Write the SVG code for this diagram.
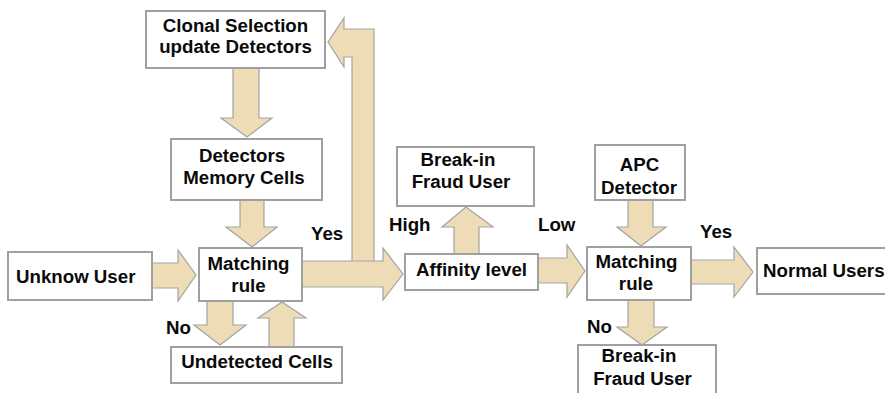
<svg xmlns="http://www.w3.org/2000/svg" width="885" height="393" viewBox="0 0 885 393">
<style>
.box{fill:#fff;stroke:#a0a0a0;stroke-width:2}
.arr{fill:#eedcb6;stroke:#a3a3a3;stroke-width:1.2;stroke-linejoin:miter}
text{font-family:"Liberation Sans",Arial,sans-serif;font-weight:bold;font-size:18.7px;fill:#0a0a0a}
.c{text-anchor:middle}
</style>
<rect width="885" height="393" fill="#fff"/>
<g id="connectors">
<path class="arr" d="M233,68 L259,68 L259,118 L272,118 L247,137 L221,118 L233,118 Z"/>
<path class="arr" d="M240,200 L264,200 L264,227 L277,227 L252,247 L226,227 L240,227 Z"/>
<path class="arr" d="M152,263 L178,263 L178,250 L196,275 L178,301 L178,288 L152,288 Z"/>
<path class="arr" d="M207,301 L233,301 L233,325 L246,325 L220,345 L194,325 L207,325 Z"/>
<path class="arr" d="M269,347 L269,318 L258,318 L282,302 L306,318 L294,318 L294,347 Z"/>
<path class="arr" d="M352,262 L352,57 L344,57 L344,67 L328,42 L344,18 L344,29 L374,29 L374,262 Z"/>
<path class="arr" d="M302,261 L383,261 L383,248 L403,274 L383,300 L383,287 L302,287 Z"/>
<path class="arr" d="M454,254 L454,227 L442,227 L466,207 L493,227 L479,227 L479,254 Z"/>
<path class="arr" d="M538,258 L567,258 L567,245 L585,271 L567,297 L567,283 L538,283 Z"/>
<path class="arr" d="M628,200 L653,200 L653,227 L666,227 L641,246 L617,227 L628,227 Z"/>
<path class="arr" d="M691,260 L734,260 L734,247 L753,272 L734,297 L734,284 L691,284 Z"/>
<path class="arr" d="M628,300 L654,300 L654,327 L667,327 L642,345 L617,327 L628,327 Z"/>
<text x="311" y="240">Yes</text>
<text x="166" y="334">No</text>
<text x="389" y="231">High</text>
<text x="538" y="231">Low</text>
<text x="700" y="238">Yes</text>
<text x="587" y="333">No</text>
</g>
<g id="clonal"><rect class="box" x="146" y="11" width="179" height="57"/>
<text class="c" x="235.5" y="32">Clonal Selection</text><text class="c" x="235.5" y="53">update Detectors</text></g>
<g id="memory"><rect class="box" x="171" y="139" width="151" height="61"/>
<text class="c" x="242" y="162">Detectors</text><text class="c" x="244" y="184">Memory Cells</text></g>
<g id="unknow"><rect class="box" x="8" y="252" width="144" height="48"/>
<text x="16" y="283">Unknow User</text></g>
<g id="match1"><rect class="box" x="199" y="248" width="103" height="53"/>
<text class="c" x="248.5" y="270">Matching</text><text class="c" x="248.5" y="292">rule</text></g>
<g id="undetected"><rect class="box" x="171" y="347" width="171" height="36"/>
<text class="c" x="257" y="368">Undetected Cells</text></g>
<g id="affinity"><rect class="box" x="405" y="254" width="133" height="36"/>
<text class="c" x="471.5" y="276">Affinity level</text></g>
<g id="fraud1"><rect class="box" x="397" y="147" width="137" height="59"/>
<text class="c" x="458" y="166">Break-in</text><text class="c" x="461" y="188">Fraud User</text></g>
<g id="apc"><rect class="box" x="595" y="145" width="90" height="55"/>
<text class="c" x="639.5" y="171">APC</text><text class="c" x="639" y="194">Detector</text></g>
<g id="match2"><rect class="box" x="587" y="247" width="104" height="53"/>
<text class="c" x="636.5" y="268">Matching</text><text class="c" x="636" y="290">rule</text></g>
<g id="normal"><rect class="box" x="757" y="248" width="130" height="46"/>
<text x="763" y="277">Normal Users</text></g>
<g id="fraud2"><rect class="box" x="578" y="345" width="138" height="50"/>
<text class="c" x="639" y="362">Break-in</text><text class="c" x="642.5" y="385">Fraud User</text></g>
</svg>
